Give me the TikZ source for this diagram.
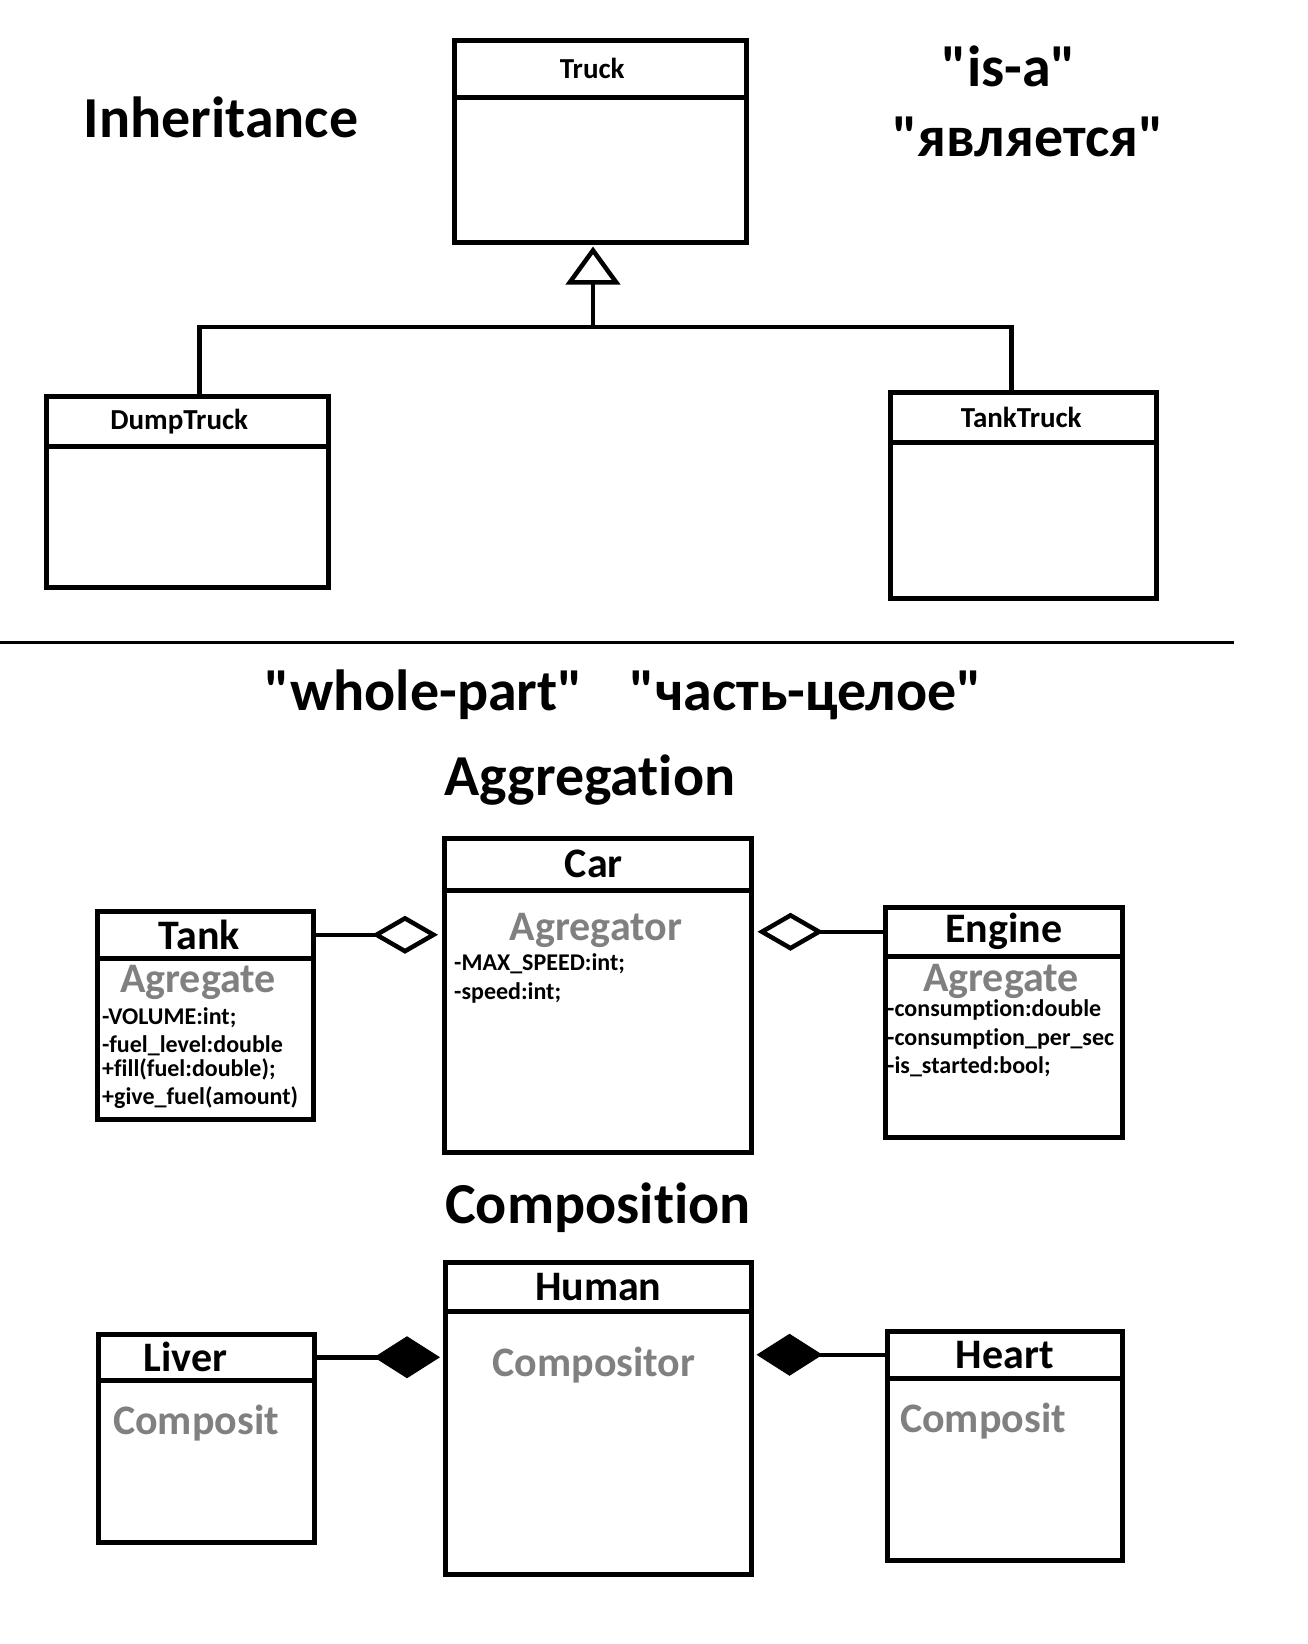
\documentclass[tikz,border=0pt]{standalone}
\usepackage{fontspec}
\setmainfont{Carlito}[Ligatures=NoCommon]
\usetikzlibrary{arrows.meta,positioning,calc}
\definecolor{labelgray}{RGB}{128,128,128}

\tikzset{
  classhead/.style={draw, line width=4.5pt, anchor=north west, inner sep=0pt},
  classbody/.style={draw, line width=4.5pt, anchor=north west, inner sep=0pt},
  heading/.style={font=\fontsize{58}{64}\selectfont\bfseries, inner sep=0pt},
  bigname/.style={font=\fontsize{42}{48}\selectfont\bfseries},
  smallname/.style={font=\fontsize{29}{32}\selectfont\bfseries},
  rolelabel/.style={font=\fontsize{42}{48}\selectfont\bfseries, text=labelgray, inner sep=0pt},
  attr/.style={font=\fontsize{24}{28}\selectfont\bfseries, anchor=west, inner sep=0pt, text height=0.66em, text depth=0.18em},
  conn/.style={line width=4.5pt}
}

\begin{document}
\begin{tikzpicture}[x=1pt, y=-1pt]
\useasboundingbox (0,0) rectangle (1308,1644);

% Inheritance
\node[heading] (inhtitle) at (221,117) {Inheritance};
\node[heading] (isa) at (1009,66) {\textquotedbl is-a\textquotedbl};
\node[heading] (isaru) at (1028,137) {\textquotedbl является\textquotedbl};

\node[classhead, smallname, minimum width=292pt, minimum height=57pt] (truckhead) at (452,38) {Truck\hspace*{16pt}};
\node[classbody, minimum width=292pt, minimum height=145pt] (truck) at (452,95) {};

\node[classhead, smallname, minimum width=282pt, minimum height=50pt] (dumphead) at (44,394) {DumpTruck\hspace*{16pt}};
\node[classbody, minimum width=282pt, minimum height=141pt] (dump) at (44,444) {};

\node[classhead, smallname, minimum width=266pt, minimum height=50pt] (tankerhead) at (888,390) {TankTruck\hspace*{4pt}};
\node[classbody, minimum width=266pt, minimum height=156pt] (tanker) at (888,440) {};

\coordinate (joint) at (593,327);
\draw[conn] ([xshift=12pt]dumphead.north) |- (joint) -| ([xshift=-12pt]tankerhead.north);
\draw[conn, -{Triangle[open, length=38pt, width=54pt]}, shorten >=2pt] (joint) -- (joint |- truck.south);

% whole-part
\draw[line width=3pt] (0,642) -- (1234,642);
\node[heading] (wholepart) at (424,695) {\textquotedbl whole-part\textquotedbl};
\node[heading] (wholepartru) at (806,695) {\textquotedbl часть-целое\textquotedbl};

% Aggregation
\node[heading] (aggtitle) at (590,780) {Aggregation};

\node[classhead, bigname, minimum width=307pt, minimum height=52pt] (carhead) at (442,836) {Car\hspace*{8pt}};
\node[classbody, minimum width=307pt, minimum height=262pt] (car) at (442,888) {};
\node[rolelabel] (carrole) at (596,930) {Agregator};
\foreach \y/\txt in {968/-MAX\_SPEED:int;, 997/-speed:int;}
  \node[attr] (carattr\y) at (454,\y) {\txt};

\node[classhead, bigname, minimum width=216pt, minimum height=47pt] (tankhead) at (95,909) {Tank\hspace*{12pt}};
\node[classbody, minimum width=216pt, minimum height=161pt] (tank) at (95,956) {};
\node[rolelabel] (tankrole) at (198,982) {Agregate};
\foreach \y/\txt in {1022/-VOLUME:int;, 1050/-fuel\_level:double, 1074/+fill(fuel:double);, 1102/+give\_fuel(amount)}
  \node[attr] (tankattr\y) at (102,\y) {\txt};

\node[classhead, bigname, minimum width=237pt, minimum height=49pt] (enginehead) at (883,905) {Engine};
\node[classbody, minimum width=237pt, minimum height=181pt] (engine) at (883,954) {};
\node[rolelabel] (enginerole) at (1001,981) {Agregate};
\foreach \y/\txt in {1014/-consumption:double, 1043/-consumption\_per\_sec, 1071/-is\_started:bool;}
  \node[attr] (engineattr\y) at (887,\y) {\txt};

\draw[conn, -{Diamond[open, length=66pt, width=38pt]}, shorten >=4pt] (tankhead.east) -- (tankhead.east -| car.west);
\draw[conn, -{Diamond[open, length=66pt, width=38pt]}, shorten >=4pt] (enginehead.west) -- (enginehead.west -| car.east);

% Composition
\node[heading] (comptitle) at (598,1208) {Composition};

\node[classhead, bigname, minimum width=306pt, minimum height=49pt] (humanhead) at (443,1260) {Human};
\node[classbody, minimum width=306pt, minimum height=263pt] (human) at (443,1309) {};
\node[rolelabel] (humanrole) at (594,1365) {Compositor};

\node[classhead, bigname, minimum width=216pt, minimum height=46pt] (liverhead) at (96,1332) {Liver\hspace*{42pt}};
\node[classbody, minimum width=216pt, minimum height=162pt] (liver) at (96,1378) {};
\node[rolelabel] (liverrole) at (196,1423) {Composit};

\node[classhead, bigname, minimum width=235pt, minimum height=47pt] (hearthead) at (885,1329) {Heart};
\node[classbody, minimum width=235pt, minimum height=182pt] (heart) at (885,1376) {};
\node[rolelabel] (heartrole) at (983,1421) {Composit};

\draw[conn, -{Diamond[length=66pt, width=42pt]}, shorten >=3pt] (liverhead.east) -- (liverhead.east -| human.west);
\draw[conn, -{Diamond[length=66pt, width=42pt]}, shorten >=3pt] (hearthead.west) -- (hearthead.west -| human.east);

\end{tikzpicture}
\end{document}
